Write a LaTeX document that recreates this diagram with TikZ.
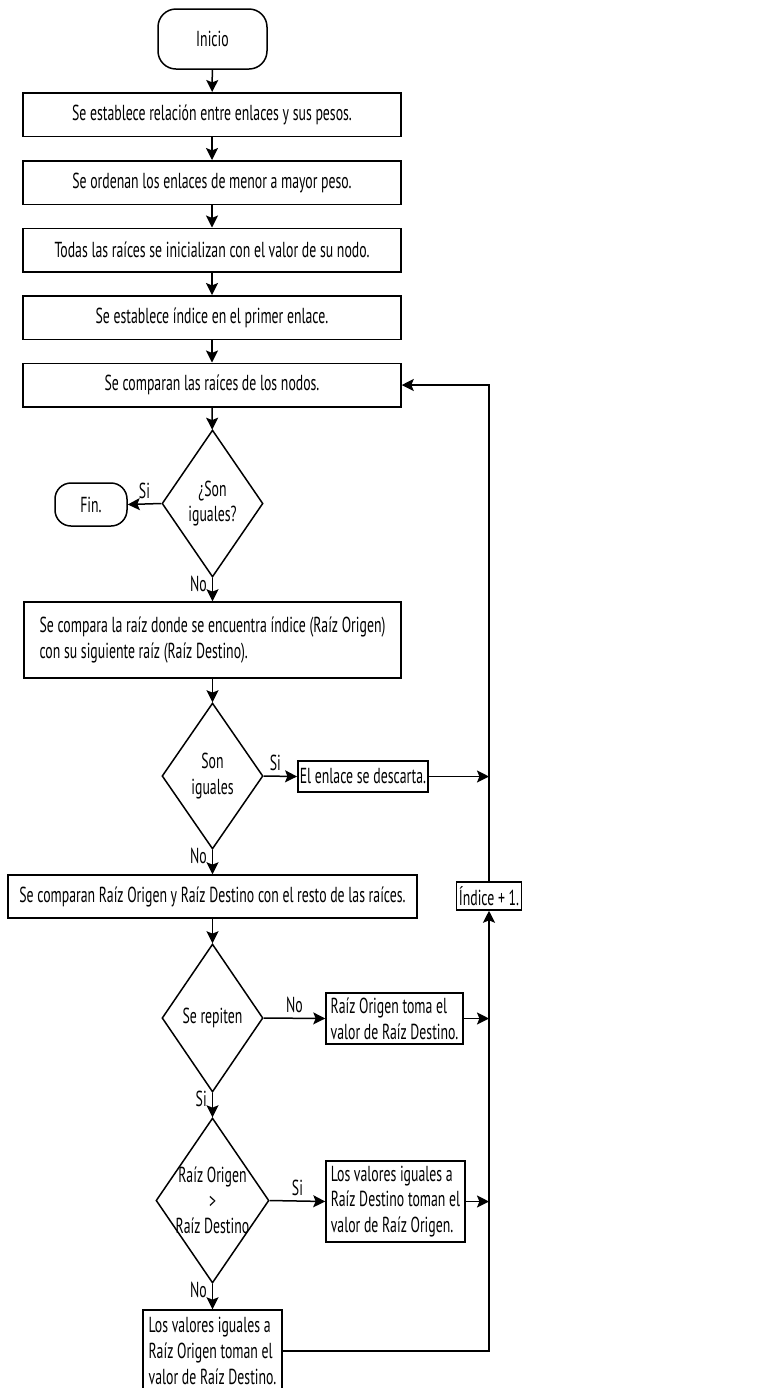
\documentclass[tikz,border=0pt]{standalone}
\usepackage{fontspec}
\setmainfont{PT Sans}[FakeStretch=0.635]
\usetikzlibrary{shapes.geometric,arrows.meta}

\tikzset{
  texto/.style={font=\fontsize{10.85}{12.85}\selectfont},
  proceso/.style={draw, rectangle, texto, inner sep=1pt, line width=0.75pt},
  terminal/.style={draw, rectangle, rounded corners=9pt, texto, line width=0.75pt},
  decision/.style={draw, diamond, inner sep=0pt, line width=0.75pt},
  flecha/.style={-{Stealth[length=6pt, width=6pt, inset=1.2pt]}, line width=0.75pt},
  etiqueta/.style={texto, inner sep=2.5pt}
}

\begin{document}
\begin{tikzpicture}[x=0.5pt, y=-0.5pt]
\useasboundingbox (0,0) rectangle (761,1388);
\clip (0,0) rectangle (761,1388);

\node[terminal, minimum width=54.5pt, minimum height=30pt] at (212.5, 39) (inicio) {Inicio};
\node[proceso, minimum width=189pt, minimum height=21.75pt] at (212, 114.5) (p1) {Se establece relación entre enlaces y sus pesos.};
\node[proceso, minimum width=189pt, minimum height=21.75pt] at (212, 182.5) (p2) {Se ordenan los enlaces de menor a mayor peso.};
\node[proceso, minimum width=189pt, minimum height=21.75pt] at (212, 250) (p3) {Todas las raíces se inicializan con el valor de su nodo.};
\node[proceso, minimum width=189pt, minimum height=21.75pt] at (212, 317.5) (p4) {Se establece índice en el primer enlace.};
\node[proceso, minimum width=189pt, minimum height=21.75pt] at (212, 385) (p5) {Se comparan las raíces de los nodos.};

\node[decision, minimum width=50.5pt, minimum height=73.5pt] at (212.5, 503.5) (d1) {};
\node[texto, align=center] at (d1) (d1txt) {¿Son\\iguales?};
\node[terminal, minimum width=36pt, minimum height=21.5pt, rounded corners=8pt] at (91, 504.5) (fin) {Fin.};

\node[proceso, minimum width=188.5pt, minimum height=38pt, align=left] at (212.5, 640) (p6) {Se compara la raíz donde se encuentra índice (Raíz Origen)\\con su siguiente raíz (Raíz Destino).};

\node[decision, minimum width=50.5pt, minimum height=73pt] at (212.5, 776) (d2) {};
\node[texto, align=center] at (d2) (d2txt) {Son\\iguales};
\node[proceso, minimum width=64pt, minimum height=15.5pt] at (363, 776.5) (descarta) {El enlace se descarta.};

\node[proceso, minimum width=204.5pt, minimum height=21.5pt] at (212.5, 896.5) (p7) {Se comparan Raíz Origen y Raíz Destino con el resto de las raíces.};
\node[proceso, minimum width=32.5pt, minimum height=14pt] at (489, 896) (indice) {Índice + 1.};

\node[decision, minimum width=50.5pt, minimum height=74pt] at (212.5, 1018) (d3) {};
\node[texto, align=center] at (d3) (d3txt) {Se repiten};
\node[proceso, minimum width=68.5pt, minimum height=25.5pt, align=left] at (394.5, 1018.5) (ro) {Raíz Origen toma el\\valor de Raíz Destino.};

\node[decision, minimum width=56.5pt, minimum height=82.5pt] at (212.5, 1200.5) (d4) {};
\node[texto, align=center] at (d4) (d4txt) {Raíz Origen\\>\\Raíz Destino};
\node[proceso, minimum width=69.5pt, minimum height=40.5pt, align=left] at (395.5, 1201.5) (lv1) {Los valores iguales a\\Raíz Destino toman el\\valor de Raíz Origen.};
\node[proceso, minimum width=69.5pt, minimum height=41pt, align=left] at (212.5, 1351) (lv2) {Los valores iguales a\\Raíz Origen toman el\\valor de Raíz Destino.};

% columna principal
\draw[flecha] (inicio) -- (p1);
\draw[flecha] (p1) -- (p2);
\draw[flecha] (p2) -- (p3);
\draw[flecha] (p3) -- (p4);
\draw[flecha] (p4) -- (p5);
\draw[flecha] (p5) -- (d1);
\draw[flecha] (d1.west) -- node[etiqueta, above] (si1) {Si} (fin.east);
\draw[flecha] (d1.south) -- node[etiqueta, left, pos=0.25] (no1) {No} (p6.north);
\draw[flecha] (p6) -- (d2);
\draw[flecha] (d2.east) -- node[etiqueta, above, pos=0.35] (si2) {Si} (descarta.west);
\draw[flecha] (d2.south) -- node[etiqueta, left, pos=0.25] (no2) {No} (p7.north);
\draw[flecha] (p7) -- (d3);
\draw[flecha] (d3.east) -- node[etiqueta, above] (no3) {No} (ro.west);
\draw[flecha] (d3.south) -- node[etiqueta, left, pos=0.25] (si3) {Si} (d4.north);
\draw[flecha] (d4.east) -- node[etiqueta, above] (si4) {Si} (lv1.west);
\draw[flecha] (d4.south) -- node[etiqueta, left, pos=0.25] (no4) {No} (lv2.north);

% retorno por la derecha
\draw[flecha] (descarta.east) -- (descarta.east -| indice.north);
\draw[flecha] (ro.east) -- (ro.east -| indice.south);
\draw[flecha] (lv1.east) -- (lv1.east -| indice.south);
\draw[flecha] (lv2.east) -| (indice.south);
\draw[flecha] (indice.north) |- (p5.east);
\end{tikzpicture}
\end{document}
